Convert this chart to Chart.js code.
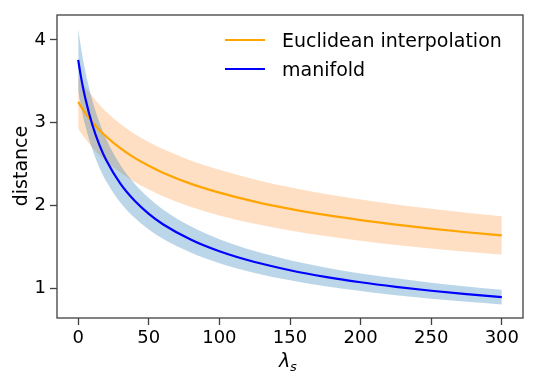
<!DOCTYPE html>
<html>
<head>
<meta charset="utf-8">
<script src="https://cdn.jsdelivr.net/npm/chart.js@4"></script>
<style>
  body { margin: 0; background: #fff; }
</style>
</head>
<body>
<canvas id="chart" width="539" height="383"></canvas>
<script>
// values
const lambdas = [0, 2, 5, 10, 15, 20, 30, 40, 50, 60, 80, 100, 125, 150, 175, 200, 225, 250, 275, 300];

const euclidMean  = [3.250, 3.194, 3.119, 3.008, 2.912, 2.829, 2.688, 2.574, 2.478, 2.395, 2.260, 2.154, 2.045, 1.958, 1.885, 1.822, 1.767, 1.719, 1.676, 1.638];
const euclidUpper = [3.570, 3.512, 3.434, 3.318, 3.217, 3.129, 2.983, 2.864, 2.765, 2.680, 2.540, 2.430, 2.313, 2.218, 2.139, 2.072, 2.012, 1.959, 1.911, 1.868];
const euclidLower = [2.930, 2.876, 2.804, 2.698, 2.607, 2.529, 2.393, 2.284, 2.191, 2.110, 1.980, 1.878, 1.777, 1.698, 1.631, 1.572, 1.522, 1.479, 1.441, 1.408];

const manifoldMean  = [3.758, 3.550, 3.296, 2.974, 2.732, 2.542, 2.259, 2.055, 1.898, 1.773, 1.585, 1.446, 1.316, 1.217, 1.137, 1.072, 1.017, 0.969, 0.928, 0.892];
const manifoldUpper = [4.134, 3.905, 3.626, 3.271, 3.005, 2.796, 2.485, 2.261, 2.088, 1.950, 1.744, 1.591, 1.448, 1.339, 1.251, 1.179, 1.119, 1.066, 1.021, 0.981];
const manifoldLower = [3.382, 3.195, 2.966, 2.677, 2.459, 2.288, 2.033, 1.850, 1.708, 1.596, 1.427, 1.301, 1.184, 1.095, 1.023, 0.965, 0.915, 0.872, 0.835, 0.803];

const xTicks = [0, 50, 100, 150, 200, 250, 300];
const yTicks = [1, 2, 3, 4];

const FONT = 'DejaVu Sans';
const toPoints = ys => ys.map((y, i) => ({ x: lambdas[i], y: y }));

const lineSeries = (label, ys, color) => ({
    label: label,
    data: toPoints(ys),
    borderColor: color,
    borderWidth: 2.2,
    pointRadius: 0,
    fill: false,
    cubicInterpolationMode: 'monotone'
});
const bandSeries = (ys, fill, color) => ({
    label: '',
    data: toPoints(ys),
    borderWidth: 0,
    borderColor: 'rgba(0,0,0,0)',
    backgroundColor: color,
    pointRadius: 0,
    fill: fill,
    cubicInterpolationMode: 'monotone'
});

// frame, legend and axis titles
const decorations = {
    id: 'decorations',
    afterDraw(chart) {
        const ctx = chart.ctx;
        const a = chart.chartArea;
        ctx.save();
        ctx.strokeStyle = '#404040';
        ctx.lineWidth = 1.3;
        ctx.strokeRect(a.left, a.top, a.right - a.left, a.bottom - a.top);

        // legend
        ctx.lineWidth = 2.2;
        ctx.strokeStyle = 'orange';
        ctx.beginPath(); ctx.moveTo(225, 40); ctx.lineTo(265, 40); ctx.stroke();
        ctx.strokeStyle = 'blue';
        ctx.beginPath(); ctx.moveTo(225, 69); ctx.lineTo(265, 69); ctx.stroke();
        ctx.fillStyle = '#000';
        ctx.font = '19px "' + FONT + '"';
        ctx.textAlign = 'left';
        ctx.textBaseline = 'alphabetic';
        ctx.fillText('Euclidean interpolation', 282, 47);
        ctx.fillText('manifold', 282, 76);

        // x title
        ctx.font = 'italic 19px "' + FONT + '"';
        ctx.fillText('λ', 279, 367);
        ctx.font = 'italic 13px "' + FONT + '"';
        ctx.fillText('s', 290, 371);

        // y title
        ctx.translate(27, 166);
        ctx.rotate(-Math.PI / 2);
        ctx.textAlign = 'center';
        ctx.font = '19px "' + FONT + '"';
        ctx.fillText('distance', 0, 0);
        ctx.restore();
    }
};

new Chart(document.getElementById('chart').getContext('2d'), {
    type: 'line',
    data: {
        datasets: [
            lineSeries('manifold', manifoldMean, 'blue'),
            lineSeries('Euclidean interpolation', euclidMean, 'orange'),
            bandSeries(manifoldUpper, '+1', 'rgba(31,119,180,0.3)'),
            bandSeries(manifoldLower, false, 'rgba(31,119,180,0.3)'),
            bandSeries(euclidUpper, '+1', 'rgba(255,127,14,0.25)'),
            bandSeries(euclidLower, false, 'rgba(255,127,14,0.25)')
        ]
    },
    options: {
        responsive: false,
        animation: false,
        layout: { padding: { top: 15, right: 16, left: 0, bottom: 0 } },
        plugins: {
            legend: { display: false },
            tooltip: { enabled: false }
        },
        scales: {
            x: {
                type: 'linear',
                min: -15,
                max: 315,
                afterBuildTicks: s => { s.ticks = xTicks.map(v => ({ value: v })); },
                afterFit: s => { s.height = 65; },
                border: { display: false },
                grid: { drawOnChartArea: false, drawTicks: true, tickLength: 7, tickColor: '#404040', tickWidth: 1.3 },
                ticks: { color: '#000', padding: 3, maxRotation: 0, font: { family: FONT, size: 18 } }
            },
            y: {
                type: 'linear',
                min: 0.64,
                max: 4.30,
                afterBuildTicks: s => { s.ticks = yTicks.map(v => ({ value: v })); },
                afterFit: s => { s.width = 57; },
                border: { display: false },
                grid: { drawOnChartArea: false, drawTicks: true, tickLength: 7, tickColor: '#404040', tickWidth: 1.3 },
                ticks: { color: '#000', padding: 4, font: { family: FONT, size: 18 } }
            }
        }
    },
    plugins: [decorations]
});
</script>
</body>
</html>
